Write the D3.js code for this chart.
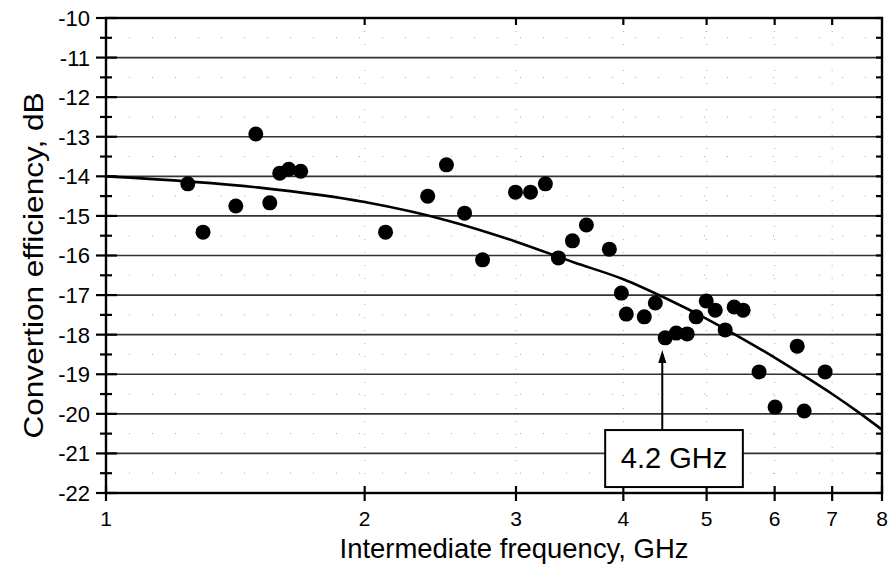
<!DOCTYPE html>
<html>
<head>
<meta charset="utf-8">
<script src="https://cdn.jsdelivr.net/npm/d3@7"></script>
<style>
  body { margin: 0; background: #fff; }
  svg { display: block; font-family: "Liberation Sans", Arial, sans-serif; }
</style>
</head>
<body>
<div id="chart"></div>
<script>
// Measured points (frequency in GHz, conversion efficiency in dB)
const freq = [1.245, 1.297, 1.416, 1.494, 1.551, 1.593, 1.632, 1.685, 2.115, 2.368,
              2.490, 2.614, 2.743, 2.996, 3.119, 3.246, 3.361, 3.490, 3.623, 3.853,
              3.979, 4.032, 4.231, 4.358, 4.475, 4.609, 4.746, 4.862, 4.995, 5.117,
              5.255, 5.383, 5.514, 5.755, 6.007, 6.374, 6.494, 6.869];
const eff = [-14.19, -15.41, -14.75, -12.93, -14.67, -13.92, -13.82, -13.87, -15.41, -14.50,
             -13.71, -14.93, -16.11, -14.40, -14.40, -14.19, -16.06, -15.63, -15.23, -15.84,
             -16.95, -17.48, -17.55, -17.20, -18.08, -17.96, -17.98, -17.55, -17.15, -17.38,
             -17.88, -17.30, -17.38, -18.94, -19.83, -18.29, -19.93, -18.94];

// Fitted curve
const fitFreq = [1, 1.5, 2, 2.5, 3, 3.5, 4, 4.5, 5, 5.5, 6, 6.5, 7, 7.5, 8];
const fitEff = [-14.0, -14.28, -14.65, -15.12, -15.65, -16.17, -16.6, -17.1, -17.6,
                -18.1, -18.58, -19.05, -19.5, -19.95, -20.4];

const xTicks = [1, 2, 3, 4, 5, 6, 7, 8];
const yTicks = d3.range(-22, -9, 1);
const yMinor = d3.range(-21.5, -10, 1);

const margin = { top: 18, right: 9, bottom: 86, left: 106 };
const width = 891 - margin.left - margin.right;
const height = 579 - margin.top - margin.bottom;

const x = d3.scaleLog().domain([1, 8]).range([0, width]);
const y = d3.scaleLinear().domain([-22, -10]).range([height, 0]);

const svg = d3.select("#chart").append("svg")
    .attr("width", 891)
    .attr("height", 579)
  .append("g")
    .attr("transform", `translate(${margin.left},${margin.top})`);

// faint dotted half-unit grid and vertical grid
svg.selectAll(".hgrid-minor")
    .data(yMinor)
  .enter().append("line")
    .attr("x1", 0).attr("x2", width)
    .attr("y1", d => y(d)).attr("y2", d => y(d))
    .attr("stroke", "#aaa")
    .attr("stroke-width", 1)
    .attr("stroke-dasharray", "1,22");

svg.selectAll(".vgrid")
    .data(xTicks.slice(1, -1))
  .enter().append("line")
    .attr("x1", d => x(d)).attr("x2", d => x(d))
    .attr("y1", 0).attr("y2", height)
    .attr("stroke", "#aaa")
    .attr("stroke-width", 1)
    .attr("stroke-dasharray", "1,12");

// solid horizontal grid
svg.selectAll(".hgrid")
    .data(yTicks.slice(1, -1))
  .enter().append("line")
    .attr("x1", 0).attr("x2", width)
    .attr("y1", d => y(d)).attr("y2", d => y(d))
    .attr("stroke", "#333")
    .attr("stroke-width", 1.6);

// frame
svg.append("rect")
    .attr("width", width).attr("height", height)
    .attr("fill", "none")
    .attr("stroke", "#000")
    .attr("stroke-width", 2.4);

// left ticks (crossing) and labels
svg.selectAll(".ytick")
    .data(yTicks)
  .enter().append("line")
    .attr("x1", -10).attr("x2", 11)
    .attr("y1", d => y(d)).attr("y2", d => y(d))
    .attr("stroke", "#000").attr("stroke-width", 2.2);

svg.selectAll(".ytick-minor")
    .data(yMinor)
  .enter().append("line")
    .attr("x1", -6).attr("x2", 6)
    .attr("y1", d => y(d)).attr("y2", d => y(d))
    .attr("stroke", "#000").attr("stroke-width", 2.2);

svg.selectAll(".ylabel")
    .data(yTicks)
  .enter().append("text")
    .attr("x", -16)
    .attr("y", d => y(d))
    .attr("dy", "0.36em")
    .attr("text-anchor", "end")
    .attr("font-size", 22)
    .text(d => d);

// right ticks (inward)
svg.selectAll(".rtick")
    .data(yTicks.concat(yMinor))
  .enter().append("line")
    .attr("x1", width - 6).attr("x2", width)
    .attr("y1", d => y(d)).attr("y2", d => y(d))
    .attr("stroke", "#000").attr("stroke-width", 2.2);

// bottom ticks (crossing), top ticks (inward)
svg.selectAll(".xtick")
    .data(xTicks)
  .enter().append("line")
    .attr("x1", d => x(d)).attr("x2", d => x(d))
    .attr("y1", height - 7).attr("y2", height + 8)
    .attr("stroke", "#000").attr("stroke-width", 2.2);

svg.selectAll(".ttick")
    .data(xTicks.slice(1, -1))
  .enter().append("line")
    .attr("x1", d => x(d)).attr("x2", d => x(d))
    .attr("y1", 0).attr("y2", 7)
    .attr("stroke", "#000").attr("stroke-width", 2.2);

svg.selectAll(".xlabel")
    .data(xTicks)
  .enter().append("text")
    .attr("x", d => x(d))
    .attr("y", height + 33)
    .attr("text-anchor", "middle")
    .attr("font-size", 21)
    .text(d => d);

// axis titles
svg.append("text")
    .attr("x", width / 2 + 20)
    .attr("y", height + 65)
    .attr("text-anchor", "middle")
    .attr("font-size", 28)
    .attr("textLength", 349)
    .attr("lengthAdjust", "spacingAndGlyphs")
    .text("Intermediate frequency, GHz");

svg.append("text")
    .attr("transform", `translate(${-63},${height / 2 + 10}) rotate(-90)`)
    .attr("text-anchor", "middle")
    .attr("font-size", 28)
    .attr("textLength", 346)
    .attr("lengthAdjust", "spacingAndGlyphs")
    .text("Convertion efficiency, dB");

// fitted curve
const line = d3.line()
    .x(d => x(d[0]))
    .y(d => y(d[1]))
    .curve(d3.curveMonotoneX);

svg.append("path")
    .datum(d3.zip(fitFreq, fitEff))
    .attr("d", line)
    .attr("fill", "none")
    .attr("stroke", "#000")
    .attr("stroke-width", 2.6);

// measured points
svg.selectAll(".dot")
    .data(d3.zip(freq, eff))
  .enter().append("circle")
    .attr("cx", d => x(d[0]))
    .attr("cy", d => y(d[1]))
    .attr("r", 7.5)
    .attr("fill", "#000");

// annotation: arrow and box (data coordinates)
const arrowF = 4.44, arrowTip = -18.39, boxTop = -20.41, boxBottom = -21.85;
const boxLeft = 3.81, boxRight = 5.51;

svg.append("line")
    .attr("x1", x(arrowF)).attr("x2", x(arrowF))
    .attr("y1", y(boxTop)).attr("y2", y(arrowTip) + 10)
    .attr("stroke", "#000").attr("stroke-width", 2);

svg.append("path")
    .attr("d", `M${x(arrowF)},${y(arrowTip)} l-4,13 l8,0 z`)
    .attr("fill", "#000");

svg.append("rect")
    .attr("x", x(boxLeft))
    .attr("y", y(boxTop))
    .attr("width", x(boxRight) - x(boxLeft))
    .attr("height", y(boxBottom) - y(boxTop))
    .attr("fill", "#fff")
    .attr("stroke", "#000")
    .attr("stroke-width", 2);

svg.append("text")
    .attr("x", (x(boxLeft) + x(boxRight)) / 2)
    .attr("y", y(boxTop) + 38)
    .attr("text-anchor", "middle")
    .attr("font-size", 29)
    .text("4.2 GHz");
</script>
</body>
</html>
